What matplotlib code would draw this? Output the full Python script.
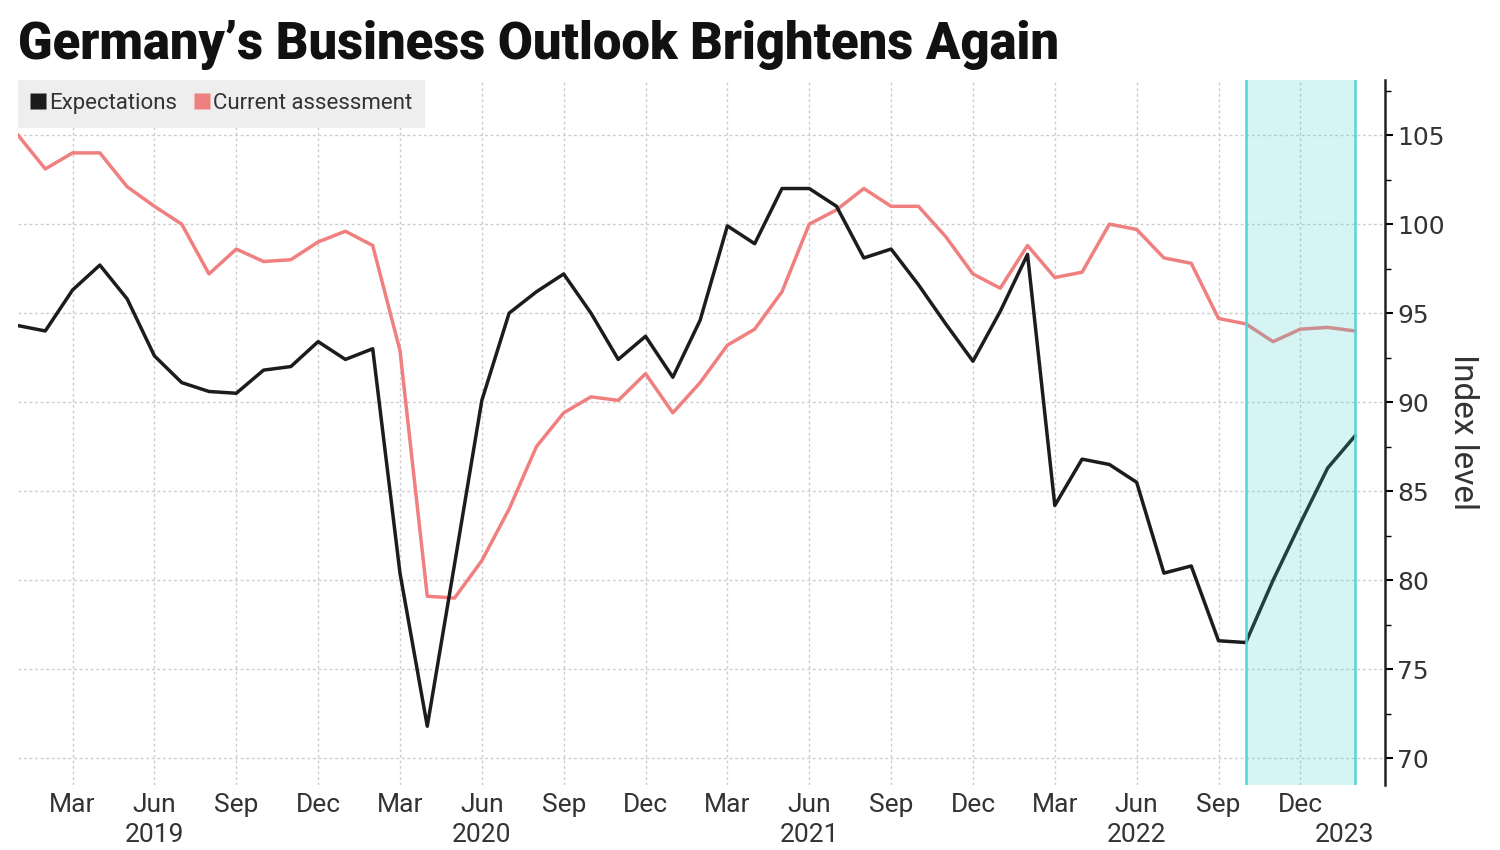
import numpy as np
import pandas as pd
import matplotlib.pyplot as plt
from matplotlib.lines import Line2D
from matplotlib.transforms import blended_transform_factory

# monthly Ifo readings, Jan 2019 - Feb 2023
months = pd.date_range('2019-01-01', periods=50, freq='MS')
expectations = [94.3, 94.0, 96.3, 97.7, 95.8, 92.6, 91.1, 90.6, 90.5, 91.8, 92.0, 93.4,
                92.4, 93.0, 80.4, 71.8, 80.9, 90.1, 95.0, 96.2, 97.2, 95.0, 92.4, 93.7,
                91.4, 94.6, 99.9, 98.9, 102.0, 102.0, 101.0, 98.1, 98.6, 96.6, 94.4, 92.3,
                95.1, 98.3, 84.2, 86.8, 86.5, 85.5, 80.4, 80.8, 76.6, 76.5, 80.0, 83.2,
                86.3, 88.1]
current = [105.0, 103.1, 104.0, 104.0, 102.1, 101.0, 100.0, 97.2, 98.6, 97.9, 98.0, 99.0,
           99.6, 98.8, 92.9, 79.1, 79.0, 81.1, 84.0, 87.5, 89.4, 90.3, 90.1, 91.6,
           89.4, 91.1, 93.2, 94.1, 96.2, 100.0, 100.8, 102.0, 101.0, 101.0, 99.3, 97.2,
           96.4, 98.8, 97.0, 97.3, 100.0, 99.7, 98.1, 97.8, 94.7, 94.4, 93.4, 94.1,
           94.2, 94.0]
series_names = ['Expectations', 'Current assessment']
shade_from = '2022-10-01'
shade_to = '2023-02-01'
year_labels = ['2019', '2020', '2021', '2022', '2023']

narrow = ['Roboto', 'DejaVu Sans']
black = '#1c1c1c'
salmon = '#f08080'

x = np.arange(len(months))

fig = plt.figure(figsize=(15, 8.5), dpi=100)
ax = fig.add_axes([0.012, 0.0765, 0.9113, 0.8295])

ax.plot(x, expectations, color=black, lw=2.5, zorder=3)
ax.plot(x, current, color=salmon, lw=2.5, zorder=2)

# highlighted period, drawn over the lines
i0 = months.get_loc(pd.Timestamp(shade_from))
i1 = months.get_loc(pd.Timestamp(shade_to))
ax.axvspan(i0, i1, color='#33cccc', alpha=0.2, lw=0, zorder=4)
ax.axvline(i0, color='#55d5d5', lw=1.8, zorder=5)
ax.axvline(i1, color='#55d5d5', lw=1.8, zorder=5)

ax.set_xlim(0, 50.1)
ax.set_ylim(68.5, 108.1)

# x ticks: quarter months
qpos = [i for i, m in enumerate(months) if m.month in (3, 6, 9, 12)]
ax.set_xticks(qpos)
ax.set_xticklabels([months[i].strftime('%b') for i in qpos], family=narrow, fontsize=19, color='#333333')
ax.tick_params(axis='x', length=0, pad=6)

# year labels under Jun (2023 sits over its short stretch)
trans = blended_transform_factory(ax.transData, ax.transAxes)
for yl in year_labels:
    idx = [i for i, m in enumerate(months) if m.year == int(yl)]
    if len(idx) >= 6:
        xp = idx[5]
    else:
        xp = 48.6
    ax.text(xp, -0.071, yl, transform=trans, ha='center', va='center',
            family=narrow, fontsize=19, color='#333333')

# y axis on the right
ax.yaxis.tick_right()
ax.set_yticks(np.arange(70, 106, 5))
ax.set_yticks(np.arange(72.5, 108, 5), minor=True)
ax.tick_params(axis='y', which='major', length=6, width=1.5, pad=3, labelsize=18, labelcolor='#333333')
ax.tick_params(axis='y', which='minor', length=4, width=1)

for s in ['top', 'left', 'bottom']:
    ax.spines[s].set_visible(False)
ax.spines['right'].set_linewidth(1.8)
ax.spines['right'].set_color('#222222')

ax.grid(True, which='major', color='#cccccc', lw=1, linestyle=(0, (2, 2)), zorder=0)
ax.set_axisbelow(True)

# legend
handles = [Line2D([], [], marker='s', linestyle='none', markersize=12, markerfacecolor=black, markeredgecolor='none'),
           Line2D([], [], marker='s', linestyle='none', markersize=12, markerfacecolor=salmon, markeredgecolor='none')]
leg = ax.legend(handles, series_names, loc='upper left', bbox_to_anchor=(0, 1), borderaxespad=0,
                ncol=2, frameon=True, fancybox=False, handlelength=0.6, handletextpad=0.2,
                columnspacing=0.8, borderpad=0.6, prop={'family': narrow, 'size': 16})
leg.get_frame().set_facecolor('#eeeeee')
leg.get_frame().set_edgecolor('none')
leg.get_frame().set_alpha(1)
for t in leg.get_texts():
    t.set_color('#333333')

fig.text(0.012, 0.947, 'Germany’s Business Outlook Brightens Again', ha='left', va='center',
         fontsize=36.5, fontweight='heavy', family=narrow, color='#111111')
fig.text(0.975, 0.492, 'Index level', rotation=270, ha='center', va='center',
         fontsize=24, family=narrow, color='#333333')

fig.savefig('out.png', dpi=100)
